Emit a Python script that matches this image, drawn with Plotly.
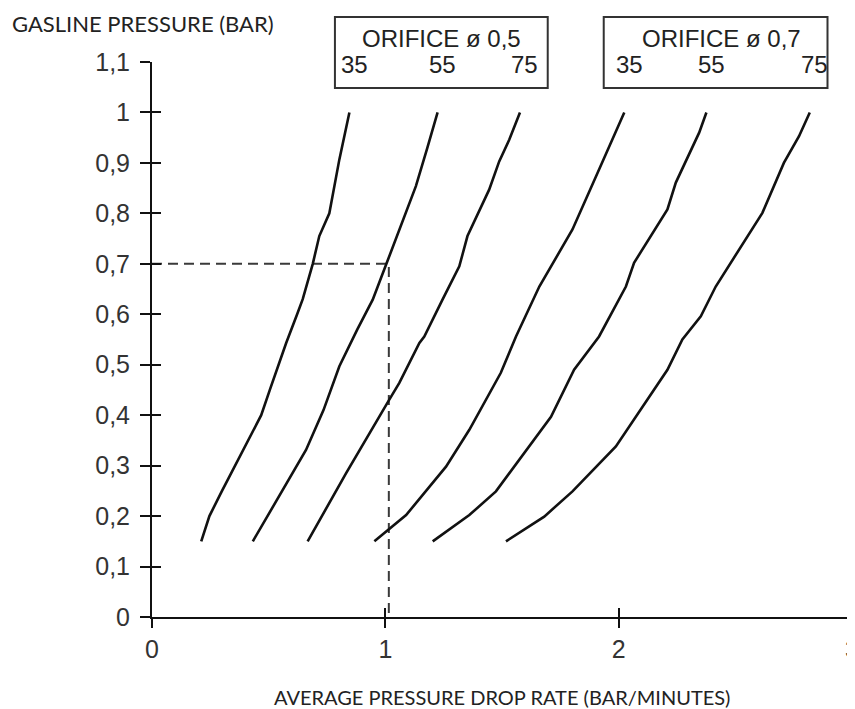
import plotly.graph_objects as go

# ---- data ----
# Orifice ø 0,5 curves
o5_35_x = [0.211, 0.246, 0.300, 0.355, 0.410, 0.468, 0.505, 0.543, 0.575, 0.622, 0.646, 0.689, 0.717, 0.760, 0.784, 0.803, 0.846]
o5_35_y = [0.150, 0.200, 0.250, 0.300, 0.350, 0.400, 0.450, 0.500, 0.543, 0.600, 0.630, 0.700, 0.755, 0.800, 0.860, 0.907, 1.000]
o5_55_x = [0.432, 0.557, 0.660, 0.735, 0.803, 0.880, 0.946, 1.003, 1.070, 1.131, 1.180, 1.224]
o5_55_y = [0.150, 0.250, 0.331, 0.410, 0.497, 0.570, 0.629, 0.698, 0.780, 0.854, 0.930, 1.000]
o5_75_x = [0.667, 0.832, 1.017, 1.060, 1.146, 1.167, 1.245, 1.317, 1.352, 1.445, 1.488, 1.531, 1.577]
o5_75_y = [0.150, 0.285, 0.431, 0.464, 0.543, 0.556, 0.629, 0.695, 0.755, 0.847, 0.903, 0.946, 1.000]
# Orifice ø 0,7 curves
o7_35_x = [0.953, 1.060, 1.089, 1.260, 1.360, 1.495, 1.560, 1.660, 1.802, 1.916, 2.024]
o7_35_y = [0.150, 0.192, 0.202, 0.298, 0.371, 0.484, 0.556, 0.655, 0.768, 0.887, 1.000]
o7_55_x = [1.203, 1.360, 1.474, 1.710, 1.809, 1.916, 2.031, 2.066, 2.209, 2.245, 2.345, 2.376]
o7_55_y = [0.150, 0.202, 0.249, 0.397, 0.490, 0.556, 0.655, 0.702, 0.808, 0.861, 0.960, 1.000]
o7_75_x = [1.517, 1.681, 1.802, 1.988, 2.209, 2.273, 2.352, 2.416, 2.616, 2.708, 2.773, 2.819]
o7_75_y = [0.150, 0.199, 0.249, 0.338, 0.490, 0.550, 0.596, 0.655, 0.801, 0.900, 0.953, 1.000]

# example reading (dashed guide)
guide_pressure = 0.70
guide_rate = 1.015

x_ticks = [0, 1, 2, 3]
x_tick_labels = ["0", "1", "2", "3"]
y_ticks = [0, 0.1, 0.2, 0.3, 0.4, 0.5, 0.6, 0.7, 0.8, 0.9, 1.0, 1.1]
y_tick_labels = ["0", "0,1", "0,2", "0,3", "0,4", "0,5", "0,6", "0,7", "0,8", "0,9", "1", "1,1"]

temps = ["35", "55", "75"]
box_titles = ["ORIFICE ø 0,5", "ORIFICE ø 0,7"]
x_title = "AVERAGE PRESSURE DROP RATE (BAR/MINUTES)"
y_title = "GASLINE PRESSURE (BAR)"

groups = [
    [(o5_35_x, o5_35_y), (o5_55_x, o5_55_y), (o5_75_x, o5_75_y)],
    [(o7_35_x, o7_35_y), (o7_55_x, o7_55_y), (o7_75_x, o7_75_y)],
]

fig = go.Figure()

# dashed guide
fig.add_trace(go.Scatter(
    x=[0, guide_rate, guide_rate], y=[guide_pressure, guide_pressure, 0],
    mode="lines", line=dict(color="#3a3a3a", width=2, dash="10px,6px"),
    hoverinfo="skip", showlegend=False))

for grp in groups:
    for cx, cy in grp:
        fig.add_trace(go.Scatter(x=cx, y=cy, mode="lines",
                                 line=dict(color="#111111", width=2.6),
                                 showlegend=False))

# invisible trace for the overlay axes (inner half of the crossing ticks)
fig.add_trace(go.Scatter(x=[0], y=[0], xaxis="x2", yaxis="y2", mode="markers",
                         marker=dict(opacity=0), hoverinfo="skip", showlegend=False))

tick_font = dict(family="Liberation Sans, Arial, sans-serif", size=25, color="#333333")
ytitle_font = dict(family="Lato, sans-serif", size=22, color="#222222")
xtitle_font = dict(family="Lato, sans-serif", size=20, color="#222222")
box_font = dict(family="Liberation Sans, Arial, sans-serif", size=24, color="#222222")

# page body has an 8px margin: figure is shifted by it, so size/margins compensate
fig.update_layout(
    width=847, height=701,
    margin=dict(l=144, r=3, t=54, b=92, autoexpand=False),
    paper_bgcolor="white", plot_bgcolor="white",
    xaxis=dict(range=[0, 3], tickvals=x_ticks, ticktext=x_tick_labels,
               showline=True, linecolor="#111111", linewidth=2,
               ticks="outside", ticklen=9, tickwidth=2, tickcolor="#111111",
               tickfont=tick_font, showgrid=False, zeroline=False,
               ticklabelstandoff=0, automargin=False, ticklabeloverflow="allow"),
    yaxis=dict(range=[0, 1.1], tickvals=y_ticks, ticktext=y_tick_labels,
               showline=True, linecolor="#111111", linewidth=2,
               ticks="outside", ticklen=10, tickwidth=2, tickcolor="#111111",
               tickfont=tick_font, showgrid=False, zeroline=False,
               ticklabelstandoff=5, automargin=False, ticklabeloverflow="allow"),
    xaxis2=dict(range=[0, 3], overlaying="x", anchor="y2", side="bottom",
                tickvals=x_ticks, ticks="inside", ticklen=9, tickwidth=2,
                tickcolor="#111111", showticklabels=False, showline=False,
                showgrid=False, zeroline=False),
    yaxis2=dict(range=[0, 1.1], overlaying="y", anchor="x2", side="left",
                tickvals=y_ticks, ticks="inside", ticklen=9, tickwidth=2,
                tickcolor="#111111", showticklabels=False, showline=False,
                showgrid=False, zeroline=False),
    showlegend=False,
)

annotations = [
    dict(text=y_title, xref="paper", yref="paper", x=-0.2029, y=1.0685,
         xanchor="left", yanchor="middle", showarrow=False, font=ytitle_font),
    dict(text=x_title, xref="paper", yref="paper", x=0.5007, y=-0.144,
         xanchor="center", yanchor="middle", showarrow=False, font=xtitle_font),
]

# legend boxes
box_x = [(0.784, 1.696), (1.936, 2.895)]
title_cx = [1.240, 2.440]
for bi, grp in enumerate(groups):
    x0, x1 = box_x[bi]
    fig.add_shape(type="rect", xref="x", yref="paper", x0=x0, x1=x1,
                  y0=0.953, y1=1.081, line=dict(color="#333333", width=2),
                  fillcolor="white", layer="above")
    annotations.append(dict(text=box_titles[bi], xref="x", yref="paper",
                            x=title_cx[bi], y=1.043, xanchor="center", yanchor="middle",
                            showarrow=False, font=box_font))
    for ti, (cx, cy) in enumerate(grp):
        annotations.append(dict(text=temps[ti], xref="x", yref="paper",
                                x=cx[-1], y=0.995, xanchor="center", yanchor="middle",
                                xshift=5, showarrow=False, font=box_font))

fig.update_layout(annotations=annotations)

fig.write_html("out.html")
